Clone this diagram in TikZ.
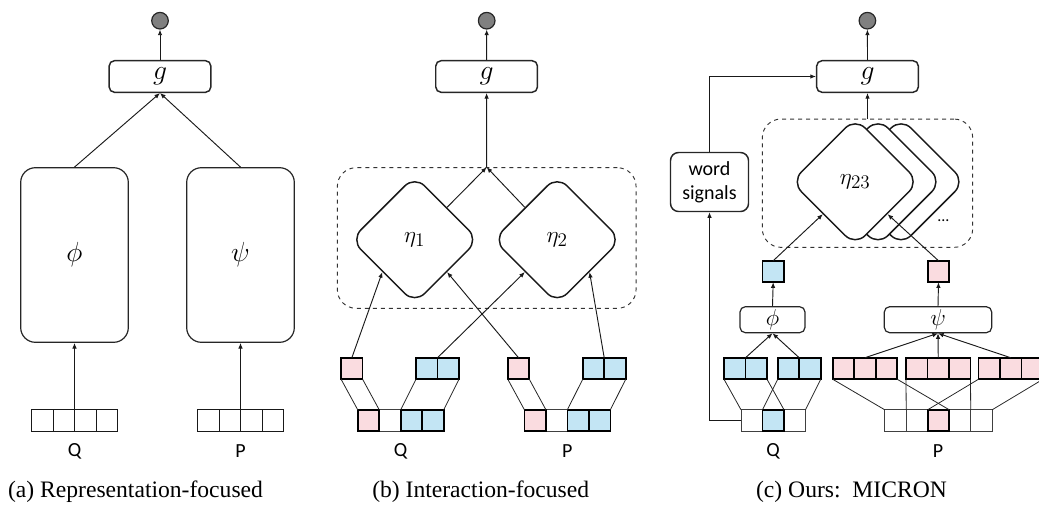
\documentclass[tikz,border=0pt]{standalone}
\usepackage{fontspec}
\setmainfont{Liberation Serif}
\newfontfamily\calib{Carlito}
\usetikzlibrary{arrows.meta,shapes.geometric,calc}
\definecolor{pinkc}{HTML}{FADCE0}
\definecolor{bluec}{HTML}{C3E5F4}
\definecolor{outg}{HTML}{808080}
\begin{document}
\begin{tikzpicture}[x=0.75pt,y=-0.75pt,
  outc/.style={circle,draw=black!85,fill=outg,line width=0.9pt,minimum size=16.6*0.75pt,inner sep=0},
  gbox/.style={draw=black!85,line width=1.1pt,rounded corners=4pt,fill=white,inner sep=0,
     minimum width=101.7*0.75pt,minimum height=31.6*0.75pt,font=\fontsize{20}{20}\selectfont},
  bigbox/.style={draw=black!85,line width=0.9pt,rounded corners=11pt,fill=white,inner sep=0,
     minimum width=107.6*0.75pt,minimum height=174.6*0.75pt,font=\fontsize{22}{22}\selectfont},
  smbox/.style={draw=black!85,line width=0.9pt,rounded corners=4pt,fill=white,inner sep=0,
     minimum height=26*0.75pt,font=\fontsize{17}{17}\selectfont},
  cell/.style={draw=black!75,line width=0.6pt,minimum size=21.5*0.75pt,inner sep=0,outer sep=0,fill=white},
  pcell/.style={cell,fill=pinkc,draw=black,line width=1.3pt},
  bcell/.style={cell,fill=bluec,draw=black,line width=1.3pt},
  conn/.style={draw=black!85,line width=0.6pt},
  arr/.style={-{Latex[length=4.2pt,width=3.4pt]},draw=black!90,line width=0.7pt},
  dashbox/.style={draw=black!80,dashed,line width=0.7pt,rounded corners=14pt,inner sep=0},
  dia/.style={diamond,aspect=1,draw=black!90,line width=1.1pt,fill=white,rounded corners=10.5pt,
     minimum width=128*0.75pt,minimum height=128*0.75pt,inner sep=0,font=\fontsize{19}{19}\selectfont},
  lab/.style={font=\calib\fontsize{15}{16}\selectfont,inner sep=0},
  captxt/.style={font=\fontsize{17.7}{20}\selectfont,inner sep=0}]
\useasboundingbox (0,0) rectangle (1039,504);

%%%%%%%% (a)
\node[outc] (oa) at (160,20.7) {};
\node[gbox] (ga) at (160,76.5) {$g$};
\node[bigbox] (phia) at (74.5,255) {$\phi$};
\node[bigbox] (psia) at (240.5,255) {$\psi$};
\foreach \i in {1,...,4}{
  \node[cell,draw=black!90] (qa\i) at ({74.5+(\i-2.5)*21.5},420.2) {};
  \node[cell,draw=black!90] (pa\i) at ({240.5+(\i-2.5)*21.5},420.2) {};
}
\node[lab] (Qa) at (74.5,451) {Q};
\node[lab] (Pa) at (240.5,451) {P};
\draw[arr] (qa2.north east) -- (phia.south);
\draw[arr] (pa2.north east) -- (psia.south);
\draw[arr] (phia.north) -- (ga.south);
\draw[arr] (psia.north) -- (ga.south);
\draw[arr] (ga.north) -- (oa.south);
\node[captxt] (capa) at (135.5,492) {(a) Representation-focused};

%%%%%%%% (b)
\node[outc] (ob) at (486.7,20.7) {};
\node[gbox] (gb) at (486.6,76.5) {$g$};
\node[dashbox,minimum width=298.7*0.75pt,minimum height=140.6*0.75pt] (db) at (486.7,238) {};
\node[dia] (e1) at (414.7,239.7) {$\eta_1$};
\node[dia] (e2) at (557.2,239.7) {$\eta_2$};
% Q arrays
\node[cell]  (bq2) at (389.95,420.5) {};
\node[pcell] (bq1) at (368.45,420.5) {};
\node[bcell] (bq3) at (411.45,420.5) {};
\node[bcell] (bq4) at (432.95,420.5) {};
\node[pcell] (tqp) at (351.85,368.5) {};
\node[bcell] (tqb1) at (426.75,368.5) {};
\node[bcell] (tqb2) at (448.25,368.5) {};
% P arrays
\node[cell]  (bp2) at (556.65,420.5) {};
\node[pcell] (bp1) at (535.15,420.5) {};
\node[bcell] (bp3) at (578.15,420.5) {};
\node[bcell] (bp4) at (599.65,420.5) {};
\node[pcell] (tpp) at (518.55,368.5) {};
\node[bcell] (tpb1) at (593.45,368.5) {};
\node[bcell] (tpb2) at (614.95,368.5) {};
\draw[conn] (tqp.south west) -- (bq1.north west) (tqp.south east) -- (bq1.north east);
\draw[conn] (tqb1.south west) -- (bq3.north west) (tqb2.south east) -- (bq4.north east);
\draw[conn] (tpp.south west) -- (bp1.north west) (tpp.south east) -- (bp1.north east);
\draw[conn] (tpb1.south west) -- (bp3.north west) (tpb2.south east) -- (bp4.north east);
\node[lab] (Qb) at (400.7,451) {Q};
\node[lab] (Pb) at (567.4,451) {P};
\draw[arr] (tqp.north) -- (e1.south west);
\draw[arr] (tqb1.north east) -- (e2.south west);
\draw[arr] (tpp.north) -- (e1.south east);
\draw[arr] (tpb1.north east) -- (e2.south east);
\draw[arr] (e1.north east) -- (db.north);
\draw[arr] (e2.north west) -- (db.north);
\draw[arr] (db.north) -- (gb.south);
\draw[arr] (gb.north) -- (ob.south);
\node[captxt] (capb) at (480.7,492) {(b) Interaction-focused};

%%%%%%%% (c)
\node[outc] (oc) at (867.4,20.7) {};
\node[gbox] (gc) at (867.5,76.5) {$g$};
\node[draw=black!85,line width=1.1pt,rounded corners=6pt,fill=white,inner sep=0,
  minimum width=78*0.75pt,minimum height=59*0.75pt,align=center,
  font=\calib\fontsize{15}{18}\selectfont] (ws) at (709.5,182) {word\\signals};
\node[dashbox,minimum width=210.4*0.75pt,minimum height=128.3*0.75pt] (dc) at (867.5,183.2) {};
\node[dia] (e23c) at (901,181.8) {};
\node[dia] (e23b) at (878,181.8) {};
\node[dia] (e23) at (855.2,181.8) {$\eta_{23}$};
\node[lab,font=\calib\fontsize{12}{14}\selectfont,anchor=base] (dots) at (943.3,221) {...};
% Q side
\node[cell]  (cq1) at (751.75,420.5) {};
\node[cell]  (cq3) at (794.75,420.5) {};
\node[bcell] (cq2) at (773.25,420.5) {};
\node[bcell] (cw1) at (734.75,368.5) {};
\node[bcell] (cw2) at (756.25,368.5) {};
\node[bcell] (cw3) at (788.45,368.5) {};
\node[bcell] (cw4) at (809.95,368.5) {};
\node[smbox,minimum width=65*0.75pt] (phic) at (772.5,319.7) {$\phi$};
\node[bcell] (qv) at (773.2,271.5) {};
\draw[conn] (cw1.south west) -- (cq1.north west) (cw2.south east) -- (cq2.north east);
\draw[conn] (cw3.south west) -- (cq2.north west) (cw4.south east) -- (cq3.north east);
\draw[arr] (cw1.north east) -- (phic.south);
\draw[arr] (cw3.north east) -- (phic.south);
\draw[arr] (phic.north) -- (qv.south);
\draw[arr] (qv.north) -- (e23.south west);
% P side
\foreach \i in {1,2,4,5}{
  \node[cell] (cp\i) at ({884.7+(\i-0.5)*21.5},420.5) {};
}
\node[pcell] (cp3) at (938.45,420.5) {};
\foreach \t/\x in {1/832.7,2/906,3/978.5}{
  \foreach \k in {1,2,3}{
    \node[pcell] (t\t\k) at ({\x+(\k-0.5)*21.5},368.5) {};
  }
}
\node[smbox,minimum width=107.4*0.75pt] (psic) at (938,319.7) {$\psi$};
\node[pcell] (pv) at (938.5,271.5) {};
\draw[conn] (t11.south west) -- (cp1.north west) (t13.south east) -- (cp3.north east);
\draw[conn] (t21.south west) -- (cp2.north west) (t23.south east) -- (cp4.north east);
\draw[conn] (t31.south west) -- (cp3.north west) (t33.south east) -- (cp5.north east);
\draw[arr] (t12.north) -- (psic.south);
\draw[arr] (t22.north) -- (psic.south);
\draw[arr] (t32.north) -- (psic.south);
\draw[arr] (psic.north) -- (pv.south);
\draw[arr] (pv.north) -- (e23.south east);
% word signals path
\draw[arr] (cq1.west) -| (ws.south);
\draw[arr] (ws.north) |- (gc.west);
\draw[arr] (dc.north) -- (gc.south);
\draw[arr] (gc.north) -- (oc.south);
\node[lab] (Qc) at (773,451) {Q};
\node[lab] (Pc) at (938,451) {P};
\node[captxt] (capc) at (851.5,492) {(c) Ours:~~MICRON};
\end{tikzpicture}
\end{document}
